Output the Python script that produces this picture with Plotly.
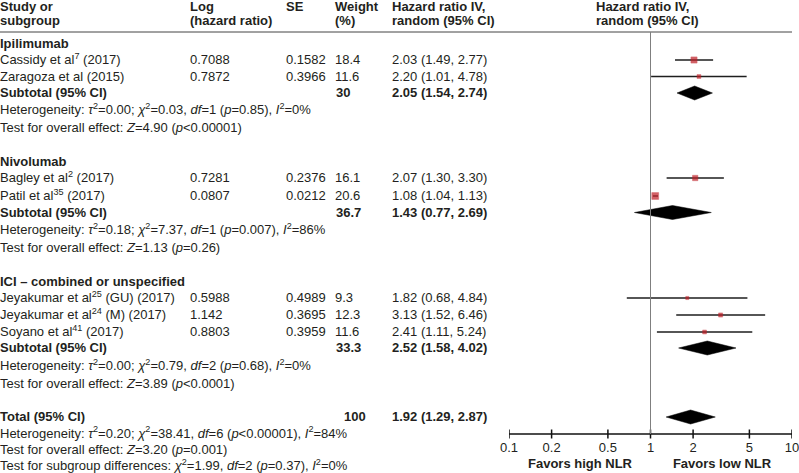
import plotly.graph_objects as go

# ---------------- data ----------------
group_names = ["Ipilimumab", "Nivolumab", "ICI – combined or unspecified"]
study_names = [
    "Cassidy et al<sup>7</sup> (2017)",
    "Zaragoza et al (2015)",
    "Bagley et al<sup>2</sup> (2017)",
    "Patil et al<sup>35</sup> (2017)",
    "Jeyakumar et al<sup>25</sup> (GU) (2017)",
    "Jeyakumar et al<sup>24</sup> (M) (2017)",
    "Soyano et al<sup>41</sup> (2017)",
]
study_group = [0, 0, 1, 1, 2, 2, 2]
log_hr = ["0.7088", "0.7872", "0.7281", "0.0807", "0.5988", "1.142", "0.8803"]
se_vals = ["0.1582", "0.3966", "0.2376", "0.0212", "0.4989", "0.3695", "0.3959"]
weights = [18.4, 11.6, 16.1, 20.6, 9.3, 12.3, 11.6]
hr = [2.03, 2.20, 2.07, 1.08, 1.82, 3.13, 2.41]
hr_lo = [1.49, 1.01, 1.30, 1.04, 0.68, 1.52, 1.11]
hr_hi = [2.77, 4.78, 3.30, 1.13, 4.84, 6.46, 5.24]

sub_weight = ["30", "36.7", "33.3"]
sub_hr = [2.05, 1.43, 2.52]
sub_lo = [1.54, 0.77, 1.58]
sub_hi = [2.74, 2.69, 4.02]
sub_het = [
    "Heterogeneity: <i>τ</i><sup>2</sup>=0.00; <i>χ</i><sup>2</sup>=0.03, <i>df</i>=1 (<i>p</i>=0.85), <i>I</i><sup>2</sup>=0%",
    "Heterogeneity: <i>τ</i><sup>2</sup>=0.18; <i>χ</i><sup>2</sup>=7.37, <i>df</i>=1 (<i>p</i>=0.007), <i>I</i><sup>2</sup>=86%",
    "Heterogeneity: <i>τ</i><sup>2</sup>=0.00; <i>χ</i><sup>2</sup>=0.79, <i>df</i>=2 (<i>p</i>=0.68), <i>I</i><sup>2</sup>=0%",
]
sub_test = [
    "Test for overall effect: <i>Z</i>=4.90 (<i>p</i><0.00001)",
    "Test for overall effect: <i>Z</i>=1.13 (<i>p</i>=0.26)",
    "Test for overall effect: <i>Z</i>=3.89 (<i>p</i><0.0001)",
]

total_weight = "100"
total_hr = 1.92
total_lo = 1.29
total_hi = 2.87
total_lines = [
    "Heterogeneity: <i>τ</i><sup>2</sup>=0.20; <i>χ</i><sup>2</sup>=38.41, <i>df</i>=6 (<i>p</i><0.00001), <i>I</i><sup>2</sup>=84%",
    "Test for overall effect: <i>Z</i>=3.20 (<i>p</i>=0.001)",
    "Test for subgroup differences: <i>χ</i><sup>2</sup>=1.99, <i>df</i>=2 (<i>p</i>=0.37), <i>I</i><sup>2</sup>=0%",
]

tick_vals = [0.1, 0.2, 0.5, 1, 2, 5, 10]
tick_text = ["0.1", "0.2", "0.5", "1", "2", "5", "10"]
favor_labels = ["Favors high NLR", "Favors low NLR"]

# ---------------- layout (pixel positions) ----------------
W, H = 799, 473
FONT = "Liberation Sans, Arial, Helvetica, sans-serif"
TXT = "#231f20"
FS = 13
TDY = 1.0   # small downward nudge for text baselines

group_y = [44, 162, 282]
study_y = [60, 76.5, 178, 196, 298, 315, 332]
sub_y = [93, 212.5, 348]
het_y = [110, 230, 366]
test_y = [128, 248, 384]
total_y = 417
total_line_y = [433.5, 450, 466]
header_y = [7, 21]
rule_y = 32
axis_y = 434
ticklab_y = 448
favor_y = 464

col_study = 0
col_log = 190
col_se = 286
col_w = 335
col_hr = 392
col_plot_hdr = 596
favor_x = [580, 722]

tx_, ty_, tt_, tp_ = [], [], [], []


def add_text(x, y, text, bold=False, pos="middle right"):
    if bold:
        text = "<b>" + text + "</b>"
    tx_.append(x)
    ty_.append(y + TDY)
    tt_.append(text)
    tp_.append(pos)


def fmt_ci(v, lo, hi):
    return f"{v:.2f} ({lo:.2f}, {hi:.2f})"


# headers
add_text(col_study, header_y[0], "Study or", True)
add_text(col_study, header_y[1], "subgroup", True)
add_text(col_log, header_y[0], "Log", True)
add_text(col_log, header_y[1], "(hazard ratio)", True)
add_text(col_se, header_y[0], "SE", True)
add_text(col_w, header_y[0], "Weight", True)
add_text(col_w, header_y[1], "(%)", True)
add_text(col_hr, header_y[0], "Hazard ratio IV,", True)
add_text(col_hr, header_y[1], "random (95% CI)", True)
add_text(col_plot_hdr, header_y[0], "Hazard ratio IV,", True)
add_text(col_plot_hdr, header_y[1], "random (95% CI)", True)

for g in range(3):
    add_text(col_study, group_y[g], group_names[g], True)
    add_text(col_study, sub_y[g], "Subtotal (95% CI)", True)
    add_text(col_w + 1, sub_y[g], sub_weight[g], True)
    add_text(col_hr, sub_y[g], fmt_ci(sub_hr[g], sub_lo[g], sub_hi[g]), True)
    add_text(col_study, het_y[g], sub_het[g])
    add_text(col_study, test_y[g], sub_test[g])

for i in range(len(study_names)):
    y = study_y[i]
    add_text(col_study, y, study_names[i])
    add_text(col_log, y, log_hr[i])
    add_text(col_se, y, se_vals[i])
    add_text(col_w, y, f"{weights[i]:.1f}")
    add_text(col_hr, y, fmt_ci(hr[i], hr_lo[i], hr_hi[i]))

add_text(col_study, total_y, "Total (95% CI)", True)
add_text(col_w + 9, total_y, total_weight, True)
add_text(col_hr, total_y, fmt_ci(total_hr, total_lo, total_hi), True)
for k, t in enumerate(total_lines):
    add_text(col_study, total_line_y[k], t)

for k, t in enumerate(favor_labels):
    add_text(favor_x[k], favor_y, t, True, "middle center")

fig = go.Figure()
MX, MY = "x2", "y"   # forest-plot axes (log x)

# CI lines
cx, cy = [], []
for i in range(len(hr)):
    cx += [hr_lo[i], hr_hi[i], None]
    cy += [study_y[i], study_y[i], None]
fig.add_trace(go.Scatter(x=cx, y=cy, mode="lines", line=dict(color="#1e1e1e", width=1.3),
                         xaxis=MX, yaxis=MY, hoverinfo="skip", showlegend=False))

# study squares
fig.add_trace(go.Scatter(x=hr, y=study_y, mode="markers",
                         marker=dict(symbol="square", color="#bf1e26",
                                     size=[w / 3 for w in weights],
                                     line=dict(width=0.5, color="#bf1e26")),
                         xaxis=MX, yaxis=MY, cliponaxis=False, showlegend=False))

# diamonds
HALF = 7
for est, lo, hi, y in list(zip(sub_hr, sub_lo, sub_hi, sub_y)) + [(total_hr, total_lo, total_hi, total_y)]:
    fig.add_trace(go.Scatter(x=[lo, est, hi, est, lo], y=[y, y - HALF, y, y + HALF, y],
                             mode="lines", fill="toself", fillcolor="#000000",
                             line=dict(color="#000000", width=0.5), hoverinfo="skip",
                             xaxis=MX, yaxis=MY, showlegend=False))

# axis line and ticks (crossing both sides)
fig.add_trace(go.Scatter(x=[tick_vals[0], tick_vals[-1]], y=[axis_y, axis_y], mode="lines",
                         line=dict(color="#111111", width=1.5), hoverinfo="skip",
                         xaxis=MX, yaxis=MY, cliponaxis=False, showlegend=False))
kx, ky = [], []
for v in tick_vals:
    kx += [v, v, None]
    ky += [axis_y - 4.5, axis_y + 4.5, None]
fig.add_trace(go.Scatter(x=kx, y=ky, mode="lines", line=dict(color="#111111", width=1.5),
                         hoverinfo="skip", xaxis=MX, yaxis=MY, cliponaxis=False,
                         showlegend=False))
# tick labels on the log axis
fig.add_trace(go.Scatter(x=tick_vals, y=[ticklab_y + TDY] * len(tick_vals), mode="text",
                         text=tick_text, textposition="middle center",
                         textfont=dict(family=FONT, size=FS, color=TXT),
                         xaxis=MX, yaxis=MY, cliponaxis=False, hoverinfo="skip",
                         showlegend=False))

# table text on a pixel-linear axis spanning the full width
fig.add_trace(go.Scatter(x=tx_, y=ty_, text=tt_, mode="text", textposition=tp_,
                         textfont=dict(family=FONT, size=FS, color=TXT),
                         xaxis="x", yaxis="y", cliponaxis=False,
                         hoverinfo="skip", showlegend=False))

shapes = [
    dict(type="line", xref="x", yref="y", x0=0, x1=792, y0=rule_y, y1=rule_y,
         line=dict(color="#444444", width=1)),
    dict(type="line", xref="x2", yref="y", x0=1, x1=1, y0=rule_y, y1=axis_y,
         line=dict(color="#7f7f7f", width=1)),
]

fig.update_layout(
    width=W, height=H,
    margin=dict(l=0, r=0, t=0, b=0),
    paper_bgcolor="white", plot_bgcolor="rgba(0,0,0,0)",
    showlegend=False,
    shapes=shapes,
    xaxis=dict(range=[0, W], domain=[0, 1], visible=False,
               showgrid=False, zeroline=False, fixedrange=True),
    xaxis2=dict(type="log", range=[-1, 1], domain=[509 / W, 792 / W], anchor="y",
                visible=False, showgrid=False, zeroline=False, fixedrange=True),
    yaxis=dict(range=[H, 0], domain=[0, 1], visible=False, fixedrange=True),
)

fig.write_html("out.html", config={"displayModeBar": False},
               post_script="document.body.style.margin='0';document.body.style.overflow='hidden';")
